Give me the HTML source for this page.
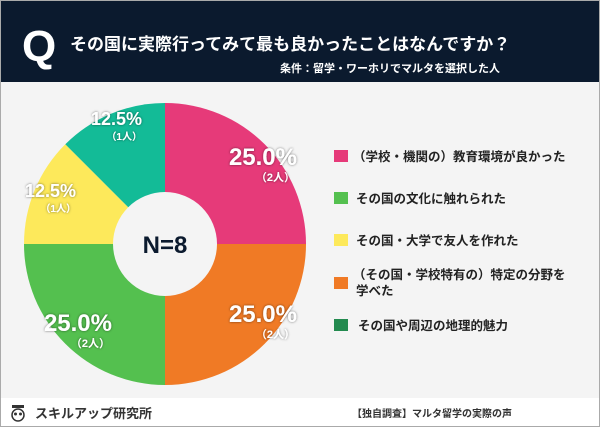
<!DOCTYPE html>
<html><head><meta charset="utf-8"><style>
html,body{margin:0;padding:0;}
body{width:600px;height:427px;overflow:hidden;font-family:"Liberation Sans","Noto Sans CJK JP",sans-serif;}
</style></head><body>
<svg width="600" height="427" viewBox="0 0 600 427" xmlns="http://www.w3.org/2000/svg" style="display:block;font-family:'Liberation Sans','Noto Sans CJK JP',sans-serif">
<defs><filter id="sh" x="-20%" y="-20%" width="140%" height="140%"><feDropShadow dx="0" dy="0" stdDeviation="1.2" flood-color="#000" flood-opacity="0.55"/></filter></defs>
<rect x="0" y="0" width="600" height="427" fill="#fff"/>
<rect x="0.5" y="0.5" width="599" height="426" fill="#f4f4f4" stroke="#aaa"/>
<rect x="1" y="1" width="598" height="81" fill="#0b1a2e"/>
<rect x="1" y="398" width="598" height="28" fill="#fff"/>
<text x="22" y="61" font-size="44" font-weight="bold" fill="#fff">Q</text>
<text x="70" y="50" font-size="17" font-weight="bold" fill="#fff">その国に実際行ってみて最も良かったことはなんですか？</text>
<text x="500" y="72" font-size="11" font-weight="bold" fill="#fff" text-anchor="end">条件：留学・ワーホリでマルタを選択した人</text>
<g transform="translate(165,244)">
<path d="M0,0 L0,-141 A141,141 0 0 1 141,0 Z" fill="#e63a79"/>
<path d="M0,0 L141,0 A141,141 0 0 1 0,141 Z" fill="#f07a25"/>
<path d="M0,0 L0,141 A141,141 0 0 1 -141,0 Z" fill="#54c04f"/>
<path d="M0,0 L-141,0 A141,141 0 0 1 -99.7,-99.7 Z" fill="#fde95b"/>
<path d="M0,0 L-99.7,-99.7 A141,141 0 0 1 0,-141 Z" fill="#13bb97"/>
<circle r="52" fill="#f4f4f4"/>
<text x="0" y="9" font-size="24" font-weight="bold" fill="#0b1a2e" text-anchor="middle">N=8</text>
</g>
<g fill="#fff" font-weight="bold" filter="url(#sh)" text-anchor="end">
<text x="297" y="165" font-size="24">25.0%</text><text x="295" y="181" font-size="11">（2人）</text>
<text x="297" y="322" font-size="24">25.0%</text><text x="295" y="338" font-size="11">（2人）</text>
<text x="112" y="331" font-size="24">25.0%</text><text x="110" y="347" font-size="11">（2人）</text>
<text x="142" y="125" font-size="18">12.5%</text><text x="142" y="140" font-size="10">（1人）</text>
<text x="76" y="197" font-size="18">12.5%</text><text x="76" y="212" font-size="10">（1人）</text>
</g>
<g font-size="12.5" font-weight="bold" fill="#222">
<rect x="334" y="150" width="14" height="12" fill="#e63a79"/><text x="353" y="161">（学校・機関の）教育環境が良かった</text>
<rect x="334" y="192" width="14" height="12" fill="#54c04f"/><text x="356" y="203">その国の文化に触れられた</text>
<rect x="334" y="234" width="14" height="12" fill="#fde95b"/><text x="356" y="245">その国・大学で友人を作れた</text>
<rect x="334" y="277" width="14" height="12" fill="#f07a25"/><text x="353" y="279">（その国・学校特有の）特定の分野を</text><text x="356" y="295">学べた</text>
<rect x="334" y="319" width="14" height="12" fill="#238a4f"/><text x="358" y="330">その国や周辺の地理的魅力</text>
</g>
<g transform="translate(18,405)">
<rect x="-6" y="0" width="12" height="3" fill="#333"/>
<circle cx="0" cy="10" r="6" fill="none" stroke="#333" stroke-width="1.5"/>
<circle cx="-2.5" cy="9" r="1.5" fill="#333"/><circle cx="2.5" cy="9" r="1.5" fill="#333"/>
</g>
<text x="35" y="418" font-size="13" font-weight="bold" fill="#333">スキルアップ研究所</text>
<text x="512" y="417" font-size="10" font-weight="bold" fill="#333" text-anchor="end">【独自調査】マルタ留学の実際の声</text>
</svg>
</body></html>
